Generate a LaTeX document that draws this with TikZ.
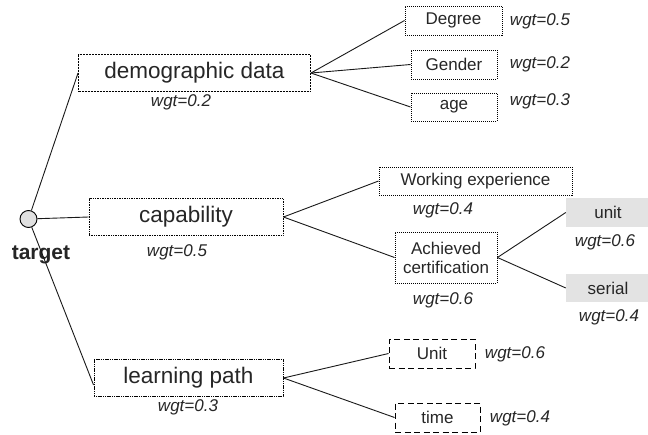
\documentclass[tikz,border=0pt]{standalone}
\usepackage{fontspec}
\setmainfont{Liberation Sans}
\begin{document}
\begin{tikzpicture}[x=1pt,y=-1pt,
  txt/.style={text=black!85},
  bigbox/.style={draw, line width=0.9pt, inner sep=0pt, txt, font=\fontsize{22.5}{27}\selectfont},
  smallbox/.style={draw, line width=0.9pt, inner sep=0pt, txt, font=\fontsize{17}{20}\selectfont, dash pattern=on 1pt off 1pt},
  dashbox/.style={draw, line width=0.9pt, inner sep=0pt, txt, font=\fontsize{17}{20}\selectfont, dash pattern=on 6pt off 3.5pt},
  graybox/.style={fill=black!11, inner sep=0pt, txt, font=\fontsize{17}{20}\selectfont},
  wgt/.style={inner sep=0pt, txt, font=\fontsize{17}{20}\selectfont\itshape},
  conn/.style={line width=0.9pt, black!90}]
\useasboundingbox (0,0) rectangle (648,434);
% root
\node[circle, draw, line width=0.9pt, fill=black!12, minimum size=17pt, inner sep=0pt] (root) at (28.5,219) {};
\node[txt, inner sep=0pt, font=\fontsize{21}{25}\selectfont\bfseries] (rootl) at (41,255) {target};
% first level
\node[bigbox, dash pattern=on 2pt off 1pt, minimum width=232pt, minimum height=37pt] (dem) at (194.5,73) {demographic data};
\node[wgt] (demw) at (181,102) {wgt=0.2};
\node[bigbox, dash pattern=on 1pt off 0.7pt, minimum width=194pt, minimum height=37pt] (cap) at (186,217) {capability};
\node[wgt] (capw) at (177,252) {wgt=0.5};
\node[bigbox, dash pattern=on 1.2pt off 0.6pt, minimum width=189pt, minimum height=37pt] (lp) at (188.5,378) {learning path};
\node[wgt] (lpw) at (188,407) {wgt=0.3};
% demographic children
\node[smallbox, minimum width=97pt, minimum height=29pt] (deg) at (453.5,20.5) {Degree};
\node[wgt] (degw) at (540,21) {wgt=0.5};
\node[smallbox, minimum width=86pt, minimum height=29pt] (gen) at (454,64.5) {Gender};
\node[wgt] (genw) at (540,64) {wgt=0.2};
\node[smallbox, minimum width=86pt, minimum height=28pt] (age) at (454,107) {age};
\node[wgt] (agew) at (540,101) {wgt=0.3};
% capability children
\node[smallbox, minimum width=193pt, minimum height=28pt] (work) at (475.5,181) {Working experience};
\node[wgt] (workw) at (443,210) {wgt=0.4};
\node[smallbox, minimum width=102pt, minimum height=51pt, align=center] (ach) at (446,257.5) {Achieved\\[-1pt]certification};
\node[wgt] (achw) at (443,300) {wgt=0.6};
\node[graybox, minimum width=84pt, minimum height=29pt] (unit) at (608,212.5) {unit};
\node[wgt] (unitw) at (605,242) {wgt=0.6};
\node[graybox, minimum width=84pt, minimum height=28pt] (serial) at (608,288) {serial};
\node[wgt] (serialw) at (609,317) {wgt=0.4};
% learning path children
\node[dashbox, minimum width=86pt, minimum height=29pt] (uni) at (432,353.5) {Unit};
\node[wgt] (uniw) at (515,354) {wgt=0.6};
\node[dashbox, minimum width=85pt, minimum height=29pt] (time) at (437.5,417.5) {time};
\node[wgt] (timew) at (520,418) {wgt=0.4};
% connectors
\draw[conn] (root) -- (dem.west);
\draw[conn] (root) -- (cap.west);
\draw[conn] (root) -- ([yshift=-7pt]lp.west);
\draw[conn] (dem.east) -- (deg.west);
\draw[conn] (dem.east) -- (gen.west);
\draw[conn] (dem.east) -- (age.west);
\draw[conn] (cap.east) -- (work.west);
\draw[conn] (cap.east) -- (ach.west);
\draw[conn] (ach.east) -- (unit.west);
\draw[conn] (ach.east) -- (serial.west);
\draw[conn] (lp.east) -- (uni.west);
\draw[conn] (lp.east) -- (time.west);
\end{tikzpicture}
\end{document}
